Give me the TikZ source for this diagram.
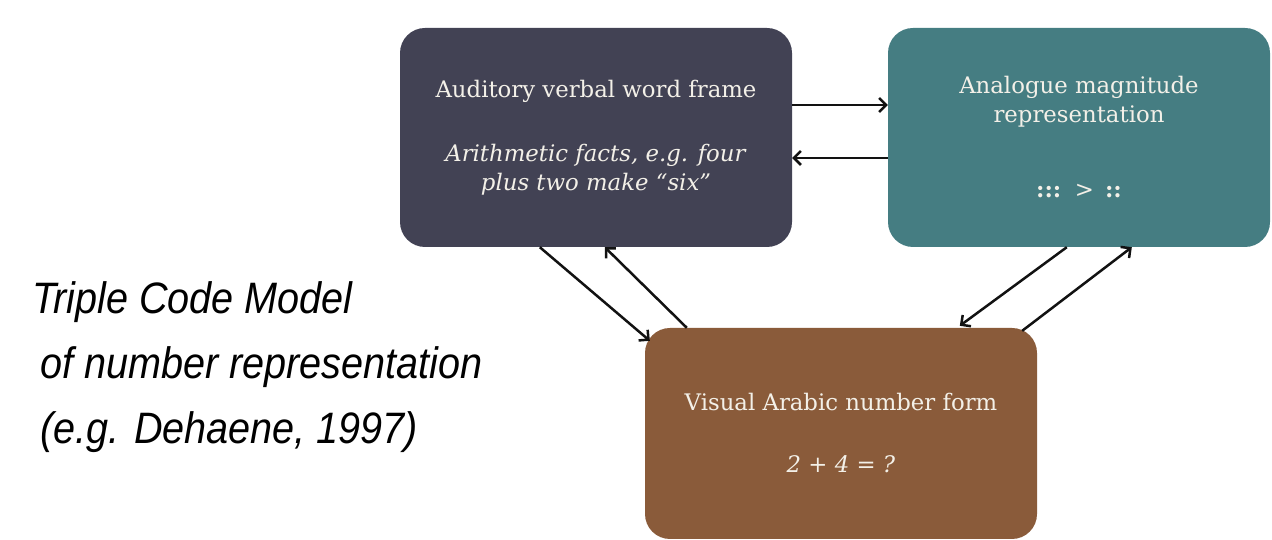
\documentclass[tikz,border=0pt]{standalone}
\usepackage{fontspec}
\setmainfont{DejaVu Serif}
\newfontfamily\capfont[FakeStretch=0.9]{Liberation Sans}
\usepackage{tikz}
\usetikzlibrary{arrows.meta,calc}
\definecolor{tcedge}{RGB}{18,18,18}
\definecolor{tcaud}{RGB}{66,66,84}
\definecolor{tcana}{RGB}{69,125,130}
\definecolor{tcvis}{RGB}{138,91,58}
\definecolor{tcink}{RGB}{243,240,232}
\tikzset{
  tcbox/.style={
    rounded corners=25pt, align=center, text=tcink, inner sep=0pt,
    font=\fontsize{22.8}{29}\selectfont
  },
  aud/.style={tcbox, fill=tcaud, minimum width=392pt, minimum height=219pt},
  ana/.style={tcbox, fill=tcana, minimum width=382pt, minimum height=219pt},
  vis/.style={tcbox, fill=tcvis, minimum width=392pt, minimum height=211pt},
  arr/.style={-{Straight Barb[length=7pt,width=14pt]}, draw=tcedge, line width=2.5pt},
  anno/.style={font=\capfont\itshape\fontsize{44}{65}\selectfont, align=left, inner sep=0pt}
}

\begin{document}
\begin{tikzpicture}[x=1pt, y=1pt]
  \useasboundingbox (0,0) rectangle (1272,540);
  % the three codes
  \node[aud] (aud) at (596,402.5)
    {Auditory verbal word frame\\[35pt]
     \textit{Arithmetic facts, e.g. four}\\
     \textit{plus two make “six”}};
  \node[ana] (ana) at (1079,402.5)
    {Analogue magnitude\\representation\\[46pt]
     \textbf{:::} \,>\, \textbf{::}};
  \node[vis] (vis) at (841,106.5)
    {Visual Arabic number form\\[33pt]
     \textit{2 + 4 = ?}};
  % title on the left
  \node[anno, anchor=north west] (title) at (32,259)
    {Triple Code Model\\
     \hspace*{8pt}of number representation\\
     \hspace*{8pt}(e.g. Dehaene, 1997)};
  % links between the codes
  \draw[arr] ([yshift=32.5pt]aud.east) -- ([yshift=32.5pt]ana.west);
  \draw[arr] ([yshift=-20.5pt]ana.west) -- ([yshift=-20.5pt]aud.east);
  \draw[arr] ([xshift=140pt]aud.south west) -- ([xshift=5pt,yshift=-13pt]vis.north west);
  \draw[arr] ([xshift=42pt]vis.north west) -- ([xshift=205pt]aud.south west);
  \draw[arr] ([xshift=179pt]ana.south west) -- ([xshift=315pt,yshift=2pt]vis.north west);
  \draw[arr] ([xshift=-15pt,yshift=-3pt]vis.north east) -- ([xshift=244pt]ana.south west);
\end{tikzpicture}
\end{document}
